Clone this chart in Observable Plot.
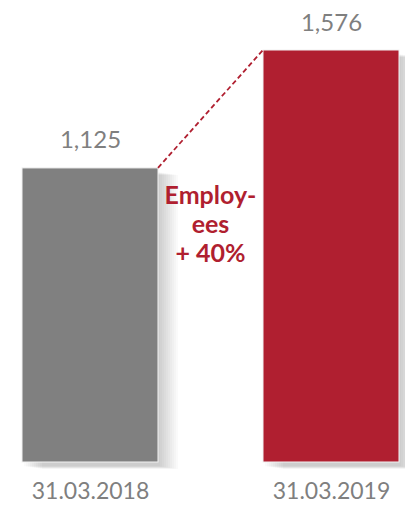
<!DOCTYPE html>
<html>
<head>
<meta charset="utf-8">
<script src="https://cdn.jsdelivr.net/npm/d3@7"></script>
<script src="https://cdn.jsdelivr.net/npm/@observablehq/plot@0.6"></script>
<style>
  html, body { margin: 0; padding: 0; background: #fff; }
</style>
</head>
<body>
<div id="chart"></div>
<script>
const dates = ["31.03.2018", "31.03.2019"];
const employees = [1125, 1576];
const valueLabels = ["1,125", "1,576"];
const barColors = ["#808080", "#B01F30"];
const noteLines = ["Employ-", "ees", "+ 40%"];

const data = dates.map((d, i) => ({date: d, value: employees[i], label: valueLabels[i]}));

const gray = "#7f7f7f";
const red = "#B01F30";

// soft shadow to the right of each bar, built from stacked translucent layers
const shadowLayers = d3.range(1, 11).map(k => Plot.barY(data, {
  x: "date", y: "value", fill: "#000", fillOpacity: 0.018, dx: 2 * k, dy: 4 + k * 0.3
}));

function annotation(index, scales, values, dims) {
  const sx = scales.x, sy = scales.y;
  const bw = typeof sx.bandwidth === "function" ? sx.bandwidth() : sx.bandwidth;
  const x1 = sx(dates[0]) + bw, y1 = sy(employees[0]);
  const x2 = sx(dates[1]), y2 = sy(employees[1]);
  const g = d3.create("svg:g");
  g.append("line")
    .attr("x1", x1).attr("y1", y1).attr("x2", x2).attr("y2", y2)
    .attr("stroke", red).attr("stroke-width", 1.8).attr("stroke-dasharray", "5,3");
  const cx = (x1 + x2) / 2;
  g.selectAll("text").data(noteLines).join("text")
    .attr("x", cx).attr("y", (d, i) => y1 + 36 + i * 29)
    .attr("text-anchor", "middle")
    .attr("fill", red).attr("font-weight", "bold").attr("font-size", 25)
    .text(d => d);
  return g.node();
}

const chart = Plot.plot({
  width: 405,
  height: 505,
  marginLeft: 22,
  marginRight: 6,
  marginTop: 50,
  marginBottom: 43,
  style: {fontFamily: "Lato", background: "#fff", overflow: "visible"},
  x: {domain: dates, paddingInner: 0.4357, paddingOuter: 0, label: null},
  y: {domain: [0, 1576], axis: null},
  color: {domain: dates, range: barColors},
  marks: [
    ...shadowLayers,
    Plot.barY(data, {x: "date", y: "value", fill: "date", stroke: "#f2f2f2", strokeWidth: 1}),
    Plot.text(data, {x: "date", y: "value", text: "label", dy: -20, lineAnchor: "bottom", fontSize: 24, fill: gray}),
    Plot.axisX({tickSize: 0, tickPadding: 20, fontSize: 23, color: gray, label: null}),
    annotation
  ]
});
document.getElementById("chart").appendChild(chart);
</script>
</body>
</html>
